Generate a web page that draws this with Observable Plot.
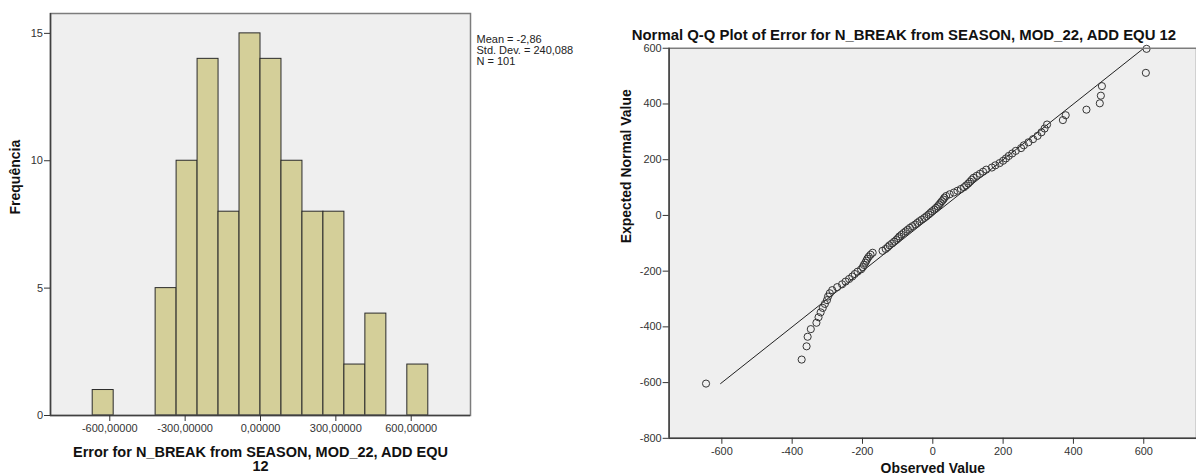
<!DOCTYPE html>
<html>
<head>
<meta charset="utf-8">
<script src="https://cdn.jsdelivr.net/npm/d3@7"></script>
<script src="https://cdn.jsdelivr.net/npm/@observablehq/plot@0.6"></script>
<style>
  html, body { margin: 0; padding: 0; background: #fff; width: 1196px; height: 476px; overflow: hidden; }
  #wrap { position: relative; width: 1196px; height: 476px; overflow: hidden; }
  #hist { position: absolute; left: 0; top: 0; }
  #qq { position: absolute; left: 590px; top: 0; }
  svg { overflow: visible; }
</style>
</head>
<body>
<div id="wrap"><div id="hist"></div><div id="qq"></div></div>
<script>
// Histogram of residuals: lower bin edges, common bin width and counts
const binLower = [-668, -417.5, -334, -250.5, -167, -83.5, 0, 83.5, 167, 250.5, 334, 417.5, 584.5];
const binWidth = 83.5;
const binCounts = [1, 5, 10, 14, 8, 15, 14, 10, 8, 8, 2, 4, 2];
const histXTicks = [-600, -300, 0, 300, 600];
const histYTicks = [0, 5, 10, 15];
const statLines = ["Mean = -2,86", "Std. Dev. = 240,088", "N = 101"];

// Normal Q-Q plot: observed residual vs expected normal value (sorted)
const observed = [
  -645, -373, -359, -356, -347, -331, -325, -319, -313, -307,
  -301, -298, -293, -286, -272, -258, -248, -238, -229, -222,
  -214, -204, -199, -196, -192, -189, -186, -182, -177, -171,
  -143, -134, -128, -123, -116, -110, -104, -99, -95, -89,
  -83, -77, -71, -65, -58, -50, -44, -38, -31, -24,
  -18,
  -12, -7, -2, 4, 9, 14, 18, 22, 26, 30,
  33, 38, 48, 60, 70, 80, 89, 95, 101, 106,
  111, 116, 125, 134, 143, 152, 168, 178, 190, 200,
  208, 216, 226, 236, 251, 259, 272, 285, 298, 309,
  318, 325, 370, 378, 437, 475, 478, 481, 606, 608
];
const expected = [
  -603.6, -517.4, -469.8, -435.5, -408.1, -385.3, -365.4, -347.9, -332.0, -317.6,
  -304.0, -291.2, -279.4, -268.2, -257.4, -247.3, -237.4, -228.1, -219.2, -210.3,
  -201.9, -193.5, -185.6, -177.6, -170.0, -162.5, -155.1, -147.9, -140.9, -134.0,
  -127.0, -120.3, -113.5, -107.1, -100.6, -94.1, -87.9, -81.6, -75.4, -69.1,
  -62.9, -56.9, -50.9, -44.6, -38.6, -32.6, -26.6, -20.7, -14.7, -8.8,
  -2.9,
  3.1, 9.0, 15.0, 20.9, 26.9, 32.9, 38.9, 45.2, 51.2, 57.2,
  63.4, 69.7, 75.9, 82.2, 88.4, 94.9, 101.4, 107.8, 114.6, 121.3,
  128.3, 135.2, 142.2, 149.4, 156.8, 164.3, 171.9, 179.9, 187.8, 196.2,
  204.6, 213.5, 222.4, 231.7, 241.6, 251.7, 262.5, 273.7, 285.5, 298.3,
  311.9, 326.3, 342.2, 359.7, 379.6, 402.4, 429.8, 464.1, 511.7, 597.9
];
const refLineEnds = [-603.6, 597.9];
const qqXTicks = [-600, -400, -200, 0, 200, 400, 600];
const qqYTicks = [-800, -600, -400, -200, 0, 200, 400, 600];

const FONT = "Arial, 'Liberation Sans', Helvetica, sans-serif";
const commaFmt = d => d.toFixed(5).replace(".", ",");

const bins = binLower.map((x0, i) => ({x0, x1: x0 + binWidth, count: binCounts[i]}));
const qqPoints = observed.map((obs, i) => ({obs, exp: expected[i]}));

const hist = Plot.plot({
  width: 590, height: 476,
  marginLeft: 50, marginRight: 120, marginTop: 13, marginBottom: 61,
  style: {fontFamily: FONT, fontSize: "11px", color: "#333", background: "transparent", overflow: "visible"},
  x: {domain: [-836, 836]},
  y: {domain: [0, 15.78]},
  marks: [
    Plot.frame({fill: "#efefef", stroke: null}),
    Plot.rectY(bins, {x1: "x0", x2: "x1", y: "count", fill: "#d4cf99", stroke: "#2a2a2a", strokeWidth: 1}),
    Plot.frame({stroke: "#7c7c7c", strokeWidth: 1.5}),
    Plot.ruleY([0], {stroke: "#404040", strokeWidth: 1.5}),
    Plot.ruleX([-836], {stroke: "#404040", strokeWidth: 1.5}),
    Plot.axisX({ticks: histXTicks, tickFormat: commaFmt, tickSize: 6, tickPadding: 3, label: null, stroke: "#333"}),
    Plot.axisY({ticks: histYTicks, tickSize: 6, tickPadding: 1.5, label: null, stroke: "#333"}),
    Plot.text(["Error for N_BREAK from SEASON, MOD_22, ADD EQU\n12"], {
      frameAnchor: "bottom", lineAnchor: "top", dy: 32, fontWeight: "bold", fontSize: 14.5, lineHeight: 0.96, fill: "#111"
    }),
    Plot.text(["Frequência"], {
      frameAnchor: "left", rotate: -90, dx: -35, fontWeight: "bold", fontSize: 14, fill: "#111"
    }),
    Plot.text([statLines.join("\n")], {
      frameAnchor: "top-right", textAnchor: "start", lineAnchor: "top", dx: 6, dy: 22,
      fontSize: 11, lineHeight: 1.0, fill: "#222"
    })
  ]
});
document.getElementById("hist").append(hist);

const qq = Plot.plot({
  width: 609, height: 476,
  marginLeft: 79, marginRight: 0, marginTop: 48, marginBottom: 36,
  style: {fontFamily: FONT, fontSize: "11px", color: "#333", background: "transparent", overflow: "visible"},
  x: {domain: [-750, 750]},
  y: {domain: [-800, 600]},
  marks: [
    Plot.frame({fill: "#efefef", stroke: null}),
    Plot.line(refLineEnds, {x: d => d, y: d => d, stroke: "#1e1e1e", strokeWidth: 1}),
    Plot.dot(qqPoints, {x: "obs", y: "exp", r: 3.6, stroke: "#333", fill: "none", strokeWidth: 1}),
    Plot.frame({stroke: "#7c7c7c", strokeWidth: 1.5}),
    Plot.ruleY([-800], {stroke: "#404040", strokeWidth: 1.5}),
    Plot.ruleX([-750], {stroke: "#404040", strokeWidth: 1.5}),
    Plot.axisX({ticks: qqXTicks, tickFormat: d => String(d), tickSize: 6, tickPadding: 3, label: null, stroke: "#333"}),
    Plot.axisY({ticks: qqYTicks, tickFormat: d => String(d), tickSize: 6, tickPadding: 1.5, label: null, stroke: "#333"}),
    Plot.text(["Normal Q-Q Plot of Error for N_BREAK from SEASON, MOD_22, ADD EQU 12"], {
      frameAnchor: "top", lineAnchor: "middle", dx: -29, dy: -13, fontWeight: "bold", fontSize: 15, fill: "#111"
    }),
    Plot.text(["Expected Normal Value"], {
      frameAnchor: "left", rotate: -90, dx: -43, fontWeight: "bold", fontSize: 14, fill: "#111"
    }),
    Plot.text(["Observed Value"], {
      frameAnchor: "bottom", lineAnchor: "bottom", dy: 35, fontWeight: "bold", fontSize: 14, fill: "#111"
    })
  ]
});
document.getElementById("qq").append(qq);
</script>
</body>
</html>
